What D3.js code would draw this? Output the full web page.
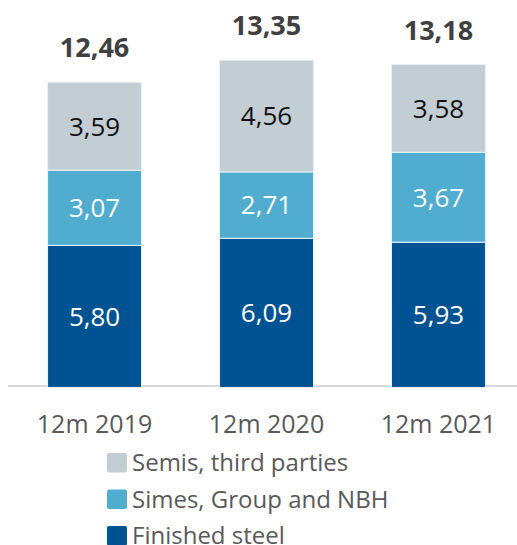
<!DOCTYPE html>
<html>
<head>
<meta charset="utf-8">
<script src="https://cdn.jsdelivr.net/npm/d3@7"></script>
<style>
  body { margin: 0; background: #fff; }
  svg { display: block; font-family: "Open Sans", sans-serif; }
</style>
</head>
<body>
<svg id="chart" width="517" height="545"></svg>
<script>
// data
var periods = ['12m 2019', '12m 2020', '12m 2021'];
var seriesNames = ['Finished steel', 'Simes, Group and NBH', 'Semis, third parties'];
var finishedSteel = [5.80, 6.09, 5.93];
var simesGroup = [3.07, 2.71, 3.67];
var semisThird = [3.59, 4.56, 3.58];
var totals = [12.46, 13.35, 13.18];

var colors = ['#005392', '#50adcf', '#c3cdd4'];
var labelColors = ['#ffffff', '#ffffff', '#111111'];

var fmt = function (v) { return v.toFixed(2).replace('.', ','); };

var svg = d3.select('#chart');

var rows = periods.map(function (p, i) {
    return { period: p, s0: finishedSteel[i], s1: simesGroup[i], s2: semisThird[i], total: totals[i] };
});

var x = d3.scaleBand()
    .domain(periods)
    .range([8, 525])
    .paddingInner(0.4535)
    .paddingOuter(0.23);

var y = d3.scaleLinear()
    .domain([0, 13.35])
    .range([387.5, 60.4]);

var stack = d3.stack().keys(['s0', 's1', 's2']);
var layers = stack(rows);

// axis line
svg.append('line')
    .attr('x1', 8).attr('x2', 517)
    .attr('y1', 386).attr('y2', 386)
    .attr('stroke', '#d9d9d9')
    .attr('stroke-width', 2);

var g = svg.selectAll('g.layer')
    .data(layers)
    .enter().append('g')
    .attr('class', 'layer');

g.selectAll('rect')
    .data(function (d) { return d; })
    .enter().append('rect')
    .attr('x', function (d) { return x(d.data.period); })
    .attr('width', x.bandwidth())
    .attr('y', function (d) { return y(d[1]); })
    .attr('height', function (d) { return y(d[0]) - y(d[1]); })
    .attr('fill', function (d, i, n) { return colors[d3.select(n[i].parentNode).datum().index]; })
    .attr('stroke', '#e8f2f8')
    .attr('stroke-width', 1);

g.selectAll('text')
    .data(function (d) { return d; })
    .enter().append('text')
    .attr('x', function (d) { return x(d.data.period) + x.bandwidth() / 2; })
    .attr('y', function (d) { return (y(d[0]) + y(d[1])) / 2; })
    .attr('dy', '0.36em')
    .attr('text-anchor', 'middle')
    .attr('font-size', 26)
    .attr('fill', function (d, i, n) { return labelColors[d3.select(n[i].parentNode).datum().index]; })
    .text(function (d) { return fmt(d[1] - d[0]); });

// totals
svg.selectAll('text.total')
    .data(rows)
    .enter().append('text')
    .attr('class', 'total')
    .attr('x', function (d) { return x(d.period) + x.bandwidth() / 2; })
    .attr('y', function (d) { return y(d.total) - 25; })
    .attr('text-anchor', 'middle')
    .attr('font-size', 27)
    .attr('font-weight', 'bold')
    .attr('fill', '#404040')
    .text(function (d) { return fmt(d.total); });

// category labels
svg.selectAll('text.cat')
    .data(periods)
    .enter().append('text')
    .attr('class', 'cat')
    .attr('x', function (d) { return x(d) + x.bandwidth() / 2; })
    .attr('y', 433)
    .attr('text-anchor', 'middle')
    .attr('font-size', 25)
    .attr('fill', '#595959')
    .text(function (d) { return d; });

// legend (top to bottom: semis, simes, finished)
var legendOrder = [2, 1, 0];
var lg = svg.selectAll('g.legend')
    .data(legendOrder)
    .enter().append('g')
    .attr('class', 'legend')
    .attr('transform', function (d, i) { return 'translate(107,' + (453 + i * 36.5) + ')'; });

lg.append('rect')
    .attr('width', 20).attr('height', 19.5)
    .attr('rx', 2)
    .attr('fill', function (d) { return colors[d]; });

lg.append('text')
    .attr('x', 25)
    .attr('y', 18)
    .attr('font-size', 24)
    .attr('fill', '#595959')
    .text(function (d) { return seriesNames[d]; });
</script>
</body>
</html>
